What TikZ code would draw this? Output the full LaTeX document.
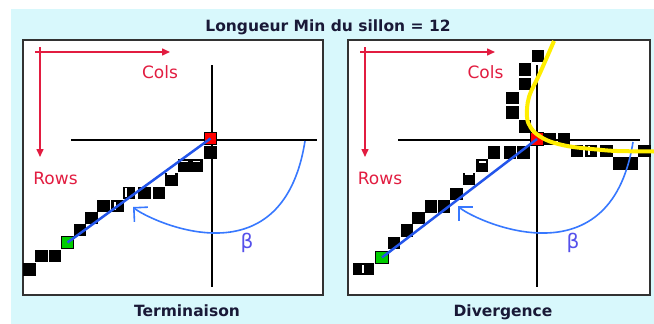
\documentclass[tikz,border=0pt]{standalone}
\usepackage{fontspec}
\setmainfont{DejaVu Sans}
\usetikzlibrary{arrows.meta}

\definecolor{bgcyan}{RGB}{216,248,252}
\definecolor{framegray}{RGB}{50,50,50}
\definecolor{axisred}{RGB}{226,28,64}
\definecolor{pathblue}{RGB}{35,85,235}
\definecolor{arcblue}{RGB}{55,120,255}
\definecolor{betablue}{RGB}{85,80,235}
\definecolor{titleink}{RGB}{25,25,55}
\definecolor{ridgeyellow}{RGB}{255,238,0}
\definecolor{startgreen}{RGB}{0,205,0}

\tikzset{
  panel/.style={draw=framegray, line width=2pt, fill=white},
  axis/.style={axisred, line width=1.5pt, -{Triangle[length=8pt,width=7pt]}},
  axislabel/.style={text=axisred, font=\fontsize{17}{19}\selectfont, inner sep=0pt, anchor=base},
  cross/.style={black, line width=1.3pt},
  pix/.style={fill=black, minimum size=12.5pt, inner sep=0pt, outer sep=0pt},
  startpix/.style={pix, fill=startgreen, draw=black, line width=1pt},
  endpix/.style={pix, fill=red, draw=black, line width=1pt},
  notch/.style={white, line width=1.5pt},
  dir/.style={pathblue, line width=2.5pt},
  betaarc/.style={arcblue, line width=1.6pt, -{Straight Barb[length=10pt,width=20pt]}},
  betalabel/.style={text=betablue, font=\fontsize{20}{22}\selectfont, inner sep=0pt},
  ridge/.style={ridgeyellow, line width=4pt},
  caption/.style={text=titleink, font=\bfseries\fontsize{15.5}{18}\selectfont, inner sep=0pt, anchor=base}
}

\begin{document}
\begin{tikzpicture}[x=1pt,y=-1pt]
\useasboundingbox (0,0) rectangle (654,324);
\fill[bgcyan] (11,9) rectangle (654,324);
\node[caption] (title) at (328,31.5) {Longueur Min du sillon = 12};

% left panel: Terminaison
\draw[panel] (23,40) rectangle (323,295);
\draw[axis] (35,52) -- (170,52);
\draw[axis] (40,47) -- (40,157);
\node[axislabel] (colsL) at (160,78) {Cols};
\node[axislabel] (rowsL) at (55.5,184) {Rows};
\draw[cross] (212,65) -- (212,287);
\draw[cross] (71,140) -- (317,140);
\foreach \x/\y [count=\i] in {29.5/269.5, 41.5/256, 55/256, 80/230, 91.5/218, 103.5/206, 117.5/206, 129/193, 144.5/193, 159/193, 171.5/179.5, 184/165.5, 196.5/165.5, 210.5/152.5}
  \node[pix] (tL\i) at (\x,\y) {};
\node[startpix] (startL) at (67.5,242.5) {};
\node[endpix] (endL) at (210.5,138.5) {};
\draw[notch] (115,202) -- (115,210);
\draw[notch] (126,188) -- (126,197);
\draw[notch] (167,174) -- (175,174);
\draw[notch] (181,161.5) -- (188,161.5);
\draw[notch] (193,161.5) -- (200,161.5);
\draw[dir] (startL.center) -- (endL.center);
\draw[betaarc] (305,141) .. controls (282,287) and (145,218) .. (133,207);
\node[betalabel] (betaL) at (247,243) {β};
\node[caption] (capL) at (187,316.5) {Terminaison};

% right panel: Divergence
\draw[panel] (348,40) rectangle (650,295);
\draw[axis] (360,52) -- (495,52);
\draw[axis] (365,47) -- (365,157);
\node[axislabel] (colsR) at (485.5,78) {Cols};
\node[axislabel] (rowsR) at (380,184) {Rows};
\draw[cross] (537,65) -- (537,287);
\draw[cross] (398,140) -- (640,140);
\node[pix, minimum width=21pt] (dR0) at (363,269) {};
\foreach \x/\y [count=\i] in {394/243, 407/230.5, 418.5/218, 431/206.5, 444/206.5, 456.5/194, 469/179, 482/165.5, 494/152.5, 510/152.5, 523.5/152.5, 525/126.5, 512.5/112.5, 512.5/98, 525/84, 525/69.5, 538/56, 550/139, 564/139, 577/151, 591/151, 606.5/151, 619.5/163.5, 632/163.5, 644.5/151}
  \node[pix] (dR\i) at (\x,\y) {};
\node[startpix] (startR) at (382,257.5) {};
\node[endpix] (endR) at (537,139) {};
\draw[notch] (363,265) -- (363,273);
\draw[notch] (465,174) -- (473,174);
\draw[notch] (479,162) -- (486,162);
\draw[notch] (589,146) -- (589,155);
\draw[dir] (startR.center) -- (endR.center);
\draw[betaarc] (633,142) .. controls (610,287) and (470,218) .. (458,206);
\node[betalabel] (betaR) at (573,243) {β};
\draw[ridge] plot[smooth, tension=0.6] coordinates {(554,41) (540,73) (529,97) (527,117) (531,128) (538,135) (550,141.5) (570,146.5) (597,149.5) (617,151) (654,151.5)};
\node[caption] (capR) at (503,316.5) {Divergence};
\end{tikzpicture}
\end{document}
